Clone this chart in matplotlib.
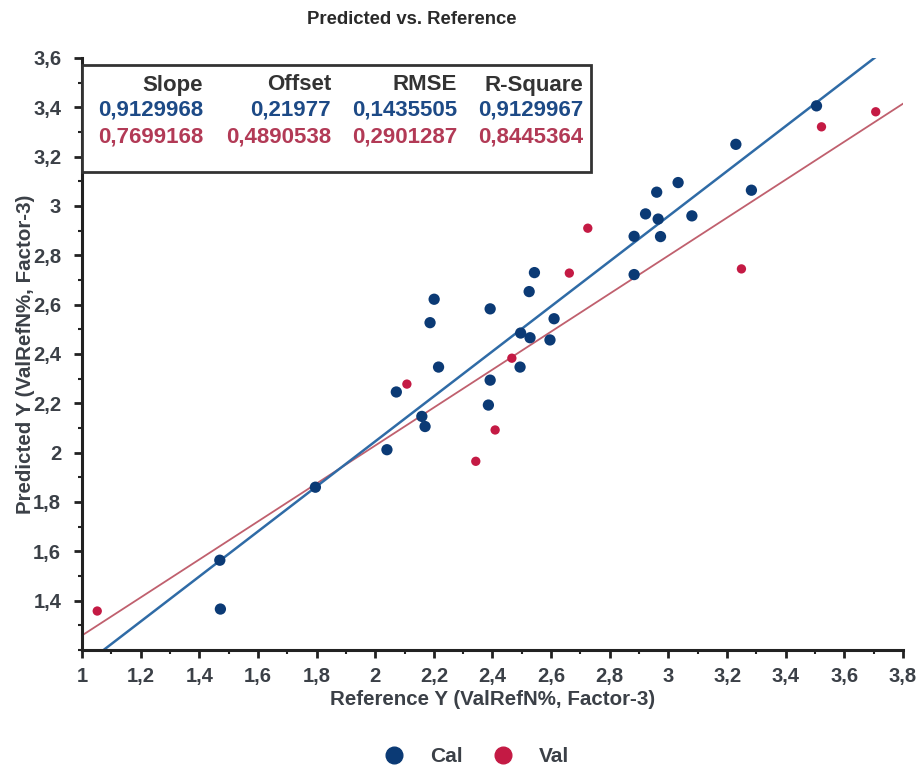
import numpy as np
import matplotlib
matplotlib.use("Agg")
import matplotlib.pyplot as plt
from matplotlib.ticker import MultipleLocator, FuncFormatter, FixedLocator
from matplotlib.lines import Line2D
from matplotlib.patches import Rectangle

plt.rcParams['font.family'] = ['Liberation Sans', 'DejaVu Sans']

# Calibration samples (reference, predicted)
cal_ref = [3.505, 3.230, 3.033, 2.960, 3.283, 2.922, 2.965, 3.080, 2.883, 2.973,
           2.543, 2.525, 2.883, 2.201, 2.392, 2.187, 2.610, 2.496, 2.528, 2.596,
           2.494, 2.216, 2.072, 2.392, 2.386, 2.159, 2.170, 2.040, 1.796, 1.470, 1.472]
cal_pred = [3.406, 3.250, 3.095, 3.056, 3.064, 2.968, 2.947, 2.960, 2.877, 2.876,
            2.730, 2.653, 2.722, 2.622, 2.583, 2.527, 2.543, 2.485, 2.466, 2.457,
            2.347, 2.347, 2.246, 2.294, 2.193, 2.147, 2.106, 2.012, 1.860, 1.564, 1.366]

# Validation samples (reference, predicted)
val_ref = [3.707, 3.522, 2.725, 2.662, 3.249, 2.466, 2.108, 2.409, 2.343, 1.052]
val_pred = [3.382, 3.321, 2.910, 2.728, 2.745, 2.383, 2.278, 2.092, 1.965, 1.358]

# Regression statistics
stat_headers = ["Slope", "Offset", "RMSE", "R-Square"]
cal_stats = ["0,9129968", "0,21977", "0,1435505", "0,9129967"]
val_stats = ["0,7699168", "0,4890538", "0,2901287", "0,8445364"]
cal_slope, cal_offset = 0.9129968, 0.21977
val_slope, val_offset = 0.7699168, 0.4890538

series_names = ["Cal", "Val"]

CAL_PT = "#0b3a75"
VAL_PT = "#c41a44"
CAL_LINE = "#2f6ba6"
VAL_LINE = "#c0606e"
CAL_TXT = "#1d4a86"
VAL_TXT = "#b23a56"
TXT = "#3b4047"

W, H = 918, 769
fig = plt.figure(figsize=(W / 100, H / 100), dpi=100)
ax = fig.add_axes([82 / W, 1 - 650 / H, (903 - 82) / W, (650 - 58) / H])

ax.set_xlim(1, 3.8)
ax.set_ylim(1.2, 3.6)

xs = np.array([1.0, 3.8])
ax.plot(xs, val_slope * xs + val_offset, color=VAL_LINE, lw=1.3, zorder=2)
ax.plot(xs, cal_slope * xs + cal_offset, color=CAL_LINE, lw=1.8, zorder=2)

ax.scatter(val_ref, val_pred, s=45, color=VAL_PT, edgecolors='none', zorder=3)
ax.scatter(cal_ref, cal_pred, s=66, color=CAL_PT, edgecolors='none', zorder=4)

for s in ['top', 'right']:
    ax.spines[s].set_visible(False)
for s in ['left', 'bottom']:
    ax.spines[s].set_color('#222222')
    ax.spines[s].set_linewidth(2.2)

fmt = FuncFormatter(lambda v, p: f"{v:g}".replace('.', ','))
ax.xaxis.set_major_locator(FixedLocator(np.round(np.arange(1.0, 3.81, 0.2), 2)))
ax.yaxis.set_major_locator(FixedLocator(np.round(np.arange(1.4, 3.61, 0.2), 2)))
ax.xaxis.set_minor_locator(MultipleLocator(0.1))
ax.yaxis.set_minor_locator(MultipleLocator(0.1))
ax.xaxis.set_major_formatter(fmt)
ax.yaxis.set_major_formatter(fmt)
ax.tick_params(which='major', length=6, width=2, color='#222222',
               labelsize=14.5, labelcolor=TXT)
ax.tick_params(axis='x', which='major', pad=6)
ax.tick_params(axis='y', which='major', pad=9)
ax.tick_params(which='minor', length=3, width=1.5, color='#222222')
for lab in ax.get_xticklabels() + ax.get_yticklabels():
    lab.set_fontweight('bold')

ax.set_xlabel("Reference Y (ValRefN%, Factor-3)", fontsize=14.8, fontweight='bold',
              color=TXT, labelpad=3)
ax.set_ylabel("Predicted Y (ValRefN%, Factor-3)", fontsize=14.8, fontweight='bold',
              color=TXT, labelpad=-1.5)

fig.text(412 / W, 1 - 20 / H, "Predicted vs. Reference", ha='center', va='center',
         fontsize=13.3, fontweight='bold', color='#2a2a2a')

# Statistics table box
box = Rectangle((82 / W, 1 - 172 / H), (591 - 82) / W, (172 - 65) / H,
                transform=fig.transFigure, facecolor='white', edgecolor='#333333',
                lw=2, zorder=5)
fig.add_artist(box)
col_right = [203, 331, 457, 583]
for x, h, c, v in zip(col_right, stat_headers, cal_stats, val_stats):
    fig.text(x / W, 1 - 85 / H, h, ha='right', va='center', fontsize=16,
             fontweight='bold', color='#333333', zorder=6)
    fig.text(x / W, 1 - 110 / H, c, ha='right', va='center', fontsize=16,
             fontweight='bold', color=CAL_TXT, zorder=6)
    fig.text(x / W, 1 - 137 / H, v, ha='right', va='center', fontsize=16,
             fontweight='bold', color=VAL_TXT, zorder=6)

handles = [Line2D([], [], ls='none', marker='o', ms=12, color=CAL_PT),
           Line2D([], [], ls='none', marker='o', ms=12, color=VAL_PT)]
leg = fig.legend(handles, series_names, loc='center', bbox_to_anchor=(471 / W, 1 - 757 / H),
                 ncol=2, frameon=False, fontsize=15, handletextpad=0.73,
                 columnspacing=0.92)
for t in leg.get_texts():
    t.set_fontweight('bold')
    t.set_color(TXT)

fig.savefig("out.png", dpi=100)
